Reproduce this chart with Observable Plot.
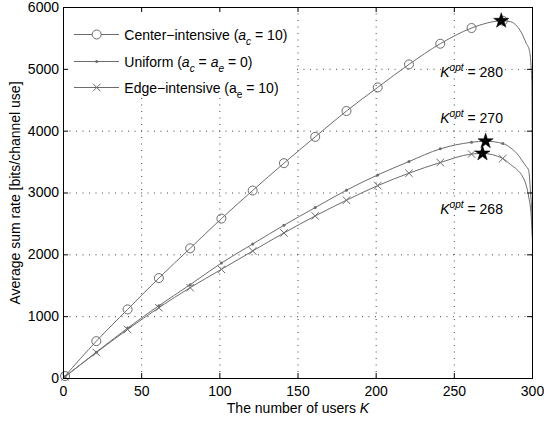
<!DOCTYPE html>
<html><head><meta charset="utf-8">
<script src="https://cdn.jsdelivr.net/npm/d3@7"></script>
<script src="https://cdn.jsdelivr.net/npm/@observablehq/plot@0.6"></script>
<style>
body{margin:0;background:#fff}
#chart svg{display:block}
</style>
</head><body><div id="chart"></div>
<script>
// ---- data ----
const centerK = [1,21,41,61,81,101,121,141,161,181,201,221,241,261,271,281,286,290,293,296,298,299.2,299.6,299.8,300];
const centerV = [40,604,1117,1624,2105,2586,3040,3482,3908,4326,4708,5080,5414,5668,5750,5786,5770,5700,5590,5420,5310,5000,4770,3800,2235];
const uniformK = [1,21,41,61,81,101,121,141,161,181,201,221,241,261,270,281,286,290,294,296,297.6,298.7,299.5,300];
const uniformV = [30,426,815,1177,1517,1867,2175,2478,2764,3045,3293,3509,3714,3820,3838,3800,3730,3640,3500,3430,3360,3017,2700,2235];
const edgeK = [1,21,41,61,81,101,121,141,161,181,201,221,241,261,268,281,286,290,294,296,297.5,299.2,300];
const edgeV = [30,420,793,1145,1469,1765,2062,2354,2629,2883,3120,3320,3493,3630,3640,3558,3460,3380,3250,3120,2950,2612,2235];
const markerK = [1,21,41,61,81,101,121,141,161,181,201,221,241,261,281];
const optK = [280, 270, 268];
const optV = [5786, 3838, 3640];
const annotX = [241, 241, 241];
const annotY = [4870, 4125, 2656];
const xTicks = [0,50,100,150,200,250,300];
const yTicks = [0,1000,2000,3000,4000,5000,6000];
const xLabel = "The number of users ";
const xLabelVar = "K";
const yLabel = "Average sum rate [bits/channel use]";
const legendLabels = [
  [["Center−intensive (",""],["a","i"],["c","subi"],[" = 10)",""]],
  [["Uniform (",""],["a","i"],["c","subi"],[" = ",""],["a","i"],["e","subi"],[" = 0)",""]],
  [["Edge−intensive (a",""],["e","sub"],[" = 10)",""]]
];
const legendSymbols = ["circle","point","times"];

// ---- build tables ----
const mk = (K, V) => K.map((k, i) => ({k, v: V[i]}));
const center = mk(centerK, centerV);
const uniform = mk(uniformK, uniformV);
const edge = mk(edgeK, edgeV);
const marks = s => s.filter(d => markerK.includes(d.k));
const stars = optK.map((k, i) => ({k, v: optV[i]}));
const annots = optK.map((k, i) => ({k, x: annotX[i], y: annotY[i]}));

const W = 544, H = 421, mL = 63, mR = 12, mT = 7, mB = 43;
const pw = W - mL - mR, ph = H - mT - mB;
const LC = "#6c6c6c";
const FONT = "'Liberation Sans', Arial, Helvetica, sans-serif";

function rich(textSel, parts, base) {
  let shift = 0;
  parts.forEach(([t, st]) => {
    const ts = textSel.append("tspan").text(t);
    let target = 0, size = base;
    if (st.startsWith("sub")) { target = 5; size = base * 0.72; }
    if (st.startsWith("sup")) { target = -6; size = base * 0.72; }
    if (st.endsWith("i")) ts.attr("font-style", "italic");
    ts.attr("font-size", size);
    if (target !== shift) { ts.attr("dy", target - shift); shift = target; }
  });
}

function legendMark(index, scales, values, dims) {
  const x0 = (dims && dims.marginLeft != null ? dims.marginLeft : mL);
  const y0 = (dims && dims.marginTop != null ? dims.marginTop : mT);
  const g = d3.create("svg:g");
  g.append("rect").attr("x", x0).attr("y", y0).attr("width", 232).attr("height", 90).attr("fill", "white");
  const rowsY = [27.5, 54.5, 80.5];
  legendLabels.forEach((parts, i) => {
    const cy = y0 + rowsY[i];
    g.append("line").attr("x1", x0 + 11).attr("x2", x0 + 56).attr("y1", cy).attr("y2", cy)
      .attr("stroke", LC).attr("stroke-width", 1);
    const cx = x0 + 33.7;
    const s = legendSymbols[i];
    if (s === "circle") g.append("circle").attr("cx", cx).attr("cy", cy).attr("r", 4.5).attr("fill", "white").attr("stroke", LC);
    else if (s === "point") g.append("circle").attr("cx", cx).attr("cy", cy).attr("r", 1.5).attr("fill", LC);
    else g.append("path").attr("d", d3.symbol(d3.symbolTimes, Math.PI * 3.5 * 3.5)()).attr("transform", `translate(${cx},${cy})`).attr("stroke", LC).attr("fill", "none");
    const t = g.append("text").attr("x", x0 + 61.3).attr("y", cy + 5).attr("font-size", 14)
      .attr("fill", "black").attr("text-anchor", "start");
    rich(t, parts, 14);
  });
  return g.node();
}

const chart = Plot.plot({
  width: W, height: H,
  marginLeft: mL, marginRight: mR, marginTop: mT, marginBottom: mB,
  x: {domain: [0, 300]},
  y: {domain: [0, 6000]},
  style: {fontFamily: FONT, fontSize: "14px", background: "white", color: "black", overflow: "visible"},
  marks: [
    Plot.gridX(xTicks.slice(1, -1), {stroke: "#444", strokeOpacity: 1, strokeDasharray: "1,5.5"}),
    Plot.gridY(yTicks.slice(1, -1), {stroke: "#444", strokeOpacity: 1, strokeDasharray: "1,5.5"}),
    legendMark,
    Plot.line(center, {x: "k", y: "v", stroke: LC, strokeWidth: 1, curve: "monotone-x"}),
    Plot.line(uniform, {x: "k", y: "v", stroke: LC, strokeWidth: 1, curve: "monotone-x"}),
    Plot.line(edge, {x: "k", y: "v", stroke: LC, strokeWidth: 1, curve: "monotone-x"}),
    Plot.dot(marks(center), {x: "k", y: "v", r: 4.5, stroke: LC, fill: "none", strokeWidth: 1}),
    Plot.dot(marks(uniform), {x: "k", y: "v", r: 1.5, fill: LC, stroke: "none"}),
    Plot.dot(marks(edge), {x: "k", y: "v", r: 3.5, symbol: "times", stroke: LC, strokeWidth: 1}),
    Plot.dot(stars, {x: "k", y: "v", r: 4.8, symbol: "star", fill: "black", stroke: "black", strokeWidth: 0.5}),
    Plot.text(annots, {x: "x", y: "y", text: d => ` = ${d.k}`, textAnchor: "start", lineAnchor: "bottom", fontSize: 14, fill: "black"}),
    // inward ticks on all four sides
    Plot.tickX(xTicks.slice(1, -1), {x: d => d, insetTop: ph - 5, stroke: "black"}),
    Plot.tickX(xTicks.slice(1, -1), {x: d => d, insetBottom: ph - 5, stroke: "black"}),
    Plot.tickY(yTicks.slice(1, -1), {y: d => d, insetRight: pw - 5, stroke: "black"}),
    Plot.tickY(yTicks.slice(1, -1), {y: d => d, insetLeft: pw - 5, stroke: "black"}),
    Plot.frame({stroke: "black", strokeWidth: 1}),
    Plot.axisX({ticks: xTicks, anchor: "bottom", tickSize: 0, tickPadding: 8, tickFormat: d => String(d), label: null, fontSize: 14}),
    Plot.axisY({ticks: yTicks, anchor: "left", tickSize: 0, tickPadding: 4.5, tickFormat: d => String(d), label: null, fontSize: 14}),
    Plot.text([yLabel], {text: d => d, frameAnchor: "left", textAnchor: "middle", lineAnchor: "middle", dx: -48, rotate: -90, fontSize: 14, fill: "black"}),
    Plot.text([xLabel], {text: d => d, frameAnchor: "bottom", textAnchor: "middle", lineAnchor: "bottom", dy: 34, fontSize: 14, fill: "black"})
  ]
});

document.getElementById("chart").appendChild(chart);

// rich text: K^opt annotations and italic K in x label
d3.select(chart).selectAll("text").each(function() {
  const s = this.textContent;
  const t = d3.select(this);
  if (/^ = \d+$/.test(s)) {
    t.text("");
    rich(t, [["K","i"],["opt","supi"],[s,""]], 14);
  } else if (s === xLabel) {
    t.text("");
    rich(t, [[xLabel,""],[xLabelVar,"i"]], 14);
  }
});
</script>
</body></html>
